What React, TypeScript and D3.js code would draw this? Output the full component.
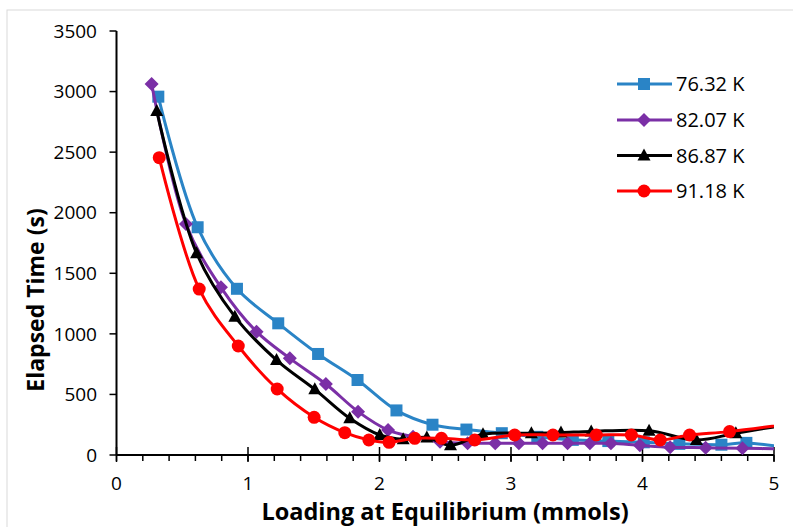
import React from "react";
import * as d3 from "d3";

const blueX = [0.318, 0.617, 0.916, 1.23, 1.533, 1.833, 2.129, 2.403, 2.661, 2.93, 3.2, 3.47, 3.74, 4.01, 4.28, 4.6, 4.79, 5.1];
const blueY = [2958, 1880, 1372, 1087, 834, 619, 368, 250, 210, 180, 150, 125, 115, 105, 92, 85, 100, 60];

const purpleX = [0.267, 0.528, 0.794, 1.065, 1.318, 1.592, 1.837, 2.065, 2.255, 2.46, 2.67, 2.88, 3.06, 3.24, 3.43, 3.6, 3.76, 3.98, 4.21, 4.48, 4.76, 5.1];
const purpleY = [3063, 1907, 1384, 1018, 798, 586, 358, 206, 151, 110, 97, 97, 97, 97, 97, 97, 97, 80, 64, 60, 55, 50];

const blackX = [0.306, 0.609, 0.9, 1.217, 1.508, 1.774, 2.002, 2.18, 2.36, 2.54, 2.787, 3.155, 3.38, 3.61, 4.05, 4.41, 4.71, 5.1];
const blackY = [2840, 1665, 1142, 784, 542, 303, 165, 130, 145, 80, 171, 179, 185, 195, 200, 124, 180, 250];

const redX = [0.325, 0.629, 0.926, 1.222, 1.503, 1.736, 1.919, 2.073, 2.268, 2.471, 2.724, 3.028, 3.319, 3.649, 3.915, 4.135, 4.358, 4.662, 5.2];
const redY = [2454, 1370, 900, 545, 311, 184, 124, 105, 138, 138, 124, 165, 165, 165, 165, 124, 165, 193, 270];

const seriesNames = ["76.32 K", "82.07 K", "86.87 K", "91.18 K"];
const seriesColors = ["#2A84C6", "#7B2FA6", "#000000", "#FF0000"];
const seriesMarkers = ["square", "diamond", "triangle", "circle"];

const xTicks = [0, 1, 2, 3, 4, 5];
const yTicks = [0, 500, 1000, 1500, 2000, 2500, 3000, 3500];

const W = 793;
const H = 527;
const L = 116.5, R = 774, T = 31, B = 455;

function Marker({ type, x, y, color }: { type: string; x: number; y: number; color: string }) {
  if (type === "square") return <rect x={x - 6} y={y - 6} width={12} height={12} fill={color} />;
  if (type === "diamond") return <path d={`M${x},${y - 7}L${x + 7},${y}L${x},${y + 7}L${x - 7},${y}Z`} fill={color} />;
  if (type === "triangle") return <path d={`M${x},${y - 7}L${x + 6.5},${y + 5}L${x - 6.5},${y + 5}Z`} fill={color} />;
  return <circle cx={x} cy={y} r={6.5} fill={color} />;
}

export default function App() {
  const x = d3.scaleLinear().domain([0, 5]).range([L, R]);
  const y = d3.scaleLinear().domain([0, 3500]).range([B, T]);
  const data = [
    [blueX, blueY],
    [purpleX, purpleY],
    [blackX, blackY],
    [redX, redY],
  ].map(([xs, ys]) => xs.map((v, i) => [v, ys[i]] as [number, number]));
  const line = d3
    .line<[number, number]>()
    .x((d) => x(d[0]))
    .y((d) => y(d[1]))
    .curve(d3.curveCatmullRom.alpha(0.5));
  const minorTicks = d3.range(0, 5.001, 0.2);
  const font = "'Open Sans', sans-serif";
  const legendY = [84, 120, 155.5, 191];
  return (
    <svg width={W} height={H} style={{ position: "absolute", left: 0, top: 0, background: "#fff" }}>
      <rect x={7} y={10} width={W} height={H} fill="none" stroke="#d9d9d9" strokeWidth={1} />
      <defs>
        <clipPath id="plot">
          <rect x={L} y={T - 10} width={R - L} height={B - T + 20} />
        </clipPath>
      </defs>
      {/* axes */}
      <line x1={L} x2={L} y1={T} y2={B} stroke="#000" strokeWidth={2} />
      <line x1={L} x2={R} y1={B} y2={B} stroke="#000" strokeWidth={2} />
      {yTicks.map((t) => (
        <g key={"y" + t}>
          <line x1={L - 7} x2={L} y1={y(t)} y2={y(t)} stroke="#000" strokeWidth={1.5} />
          <text x={97} y={y(t)} dy="0.35em" textAnchor="end" fontFamily={font} fontSize={19} fill="#000">
            {t}
          </text>
        </g>
      ))}
      {minorTicks.map((t, i) => (
        <line key={"m" + i} x1={x(t)} x2={x(t)} y1={B} y2={B + 6} stroke="#000" strokeWidth={1.5} />
      ))}
      {xTicks.map((t) => (
        <g key={"x" + t}>
          <line x1={x(t)} x2={x(t)} y1={B - 8} y2={B + 7} stroke="#000" strokeWidth={1.5} />
          <text x={x(t)} y={483.5} dy="0.35em" textAnchor="middle" fontFamily={font} fontSize={19} fill="#000">
            {t}
          </text>
        </g>
      ))}
      {/* series */}
      <g clipPath="url(#plot)">
        {data.map((pts, i) => (
          <g key={"s" + i}>
            <path d={line(pts) || ""} fill="none" stroke={seriesColors[i]} strokeWidth={3} />
            {pts
              .filter((p) => p[0] <= 5)
              .map((p, j) => (
                <Marker key={j} type={seriesMarkers[i]} x={x(p[0])} y={y(p[1])} color={seriesColors[i]} />
              ))}
          </g>
        ))}
      </g>
      {/* legend */}
      {seriesNames.map((n, i) => (
        <g key={"l" + i}>
          <line x1={617} x2={672} y1={legendY[i]} y2={legendY[i]} stroke={seriesColors[i]} strokeWidth={3} />
          <Marker type={seriesMarkers[i]} x={644} y={legendY[i]} color={seriesColors[i]} />
          <text x={676} y={legendY[i]} dy="0.35em" fontFamily={font} fontSize={20} fill="#000">
            {n}
          </text>
        </g>
      ))}
      {/* titles */}
      <text
        transform={`translate(36,300) rotate(-90)`}
        dy="0.35em"
        textAnchor="middle"
        fontFamily={font}
        fontWeight="bold"
        fontSize={23}
        fill="#000"
      >
        Elapsed Time (s)
      </text>
      <text x={445} y={520} textAnchor="middle" fontFamily={font} fontWeight="bold" fontSize={23.5} fill="#000">
        Loading at Equilibrium (mmols)
      </text>
    </svg>
  );
}
